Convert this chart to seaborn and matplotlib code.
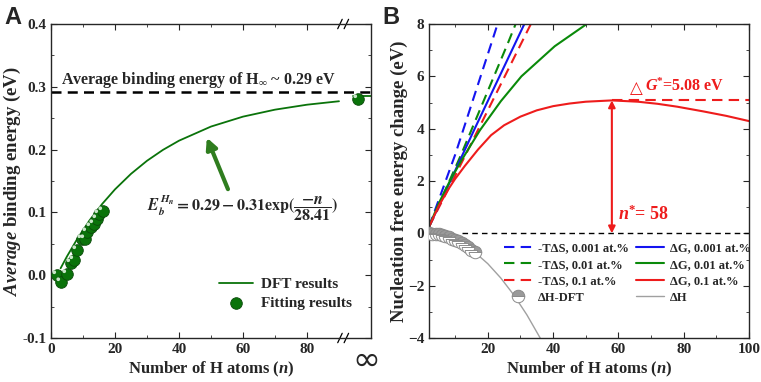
import numpy as np
import matplotlib
matplotlib.use("Agg")
import matplotlib.pyplot as plt
from matplotlib.path import Path
from matplotlib.ticker import MultipleLocator, FixedLocator
import seaborn as sns

# ---------------- panel A data ----------------
dft_n = [1.8, 3.1, 5.1, 6.25, 7.2, 8.2, 9.6, 10.7, 11.3, 12.4, 13.5, 14.3, 15.1, 16.1]
dft_E = [0.0, -0.011, 0.002, 0.02, 0.025, 0.04, 0.057, 0.058, 0.068, 0.077, 0.081, 0.09, 0.098, 0.103]
fit_n = [3, 5, 8, 12, 16, 20, 25, 30, 35, 40, 50, 60, 70, 80, 90]
fit_E = [0.011, 0.030, 0.056, 0.087, 0.1135, 0.1367, 0.1614, 0.1822, 0.1996, 0.2142,
         0.2367, 0.2525, 0.2636, 0.2715, 0.277]
inf_line_n = [94.4, 100]
inf_line_E = [0.286, 0.286]
inf_n = [96]
inf_E = [0.280]
E_inf = 0.292

# ---------------- panel B data ----------------
tds_001_n = [2, 10, 21.3, 23, 30]
tds_001 = [0.25, 3.0, 7.34, 8.0, 10.8]
tds_01_n = [2, 11.7, 26.4, 35]
tds_01 = [0.25, 2.97, 7.34, 10.0]
tds_1_n = [2, 10, 20, 33.2, 40]
tds_1 = [0.25, 2.2, 4.7, 8.0, 9.75]

dg_001_n = [2, 16, 31.2, 40]
dg_001 = [0.25, 4.0, 8.0, 10.2]
dg_01_n = [2, 5, 8.4, 12, 17.6, 24, 30.3, 40.5, 50.3, 60]
dg_01 = [0.25, 1.15, 2.0, 2.8, 3.94, 5.05, 6.0, 7.15, 8.0, 8.7]
dg_1_n = [2, 5, 8, 10, 13, 17, 21, 25, 30, 35, 40, 45, 50, 58, 66, 72, 78, 86, 93, 100]
dg_1 = [0.25, 1.05, 1.7, 2.08, 2.58, 3.2, 3.75, 4.13, 4.46, 4.7, 4.86, 4.96, 5.03, 5.08,
        5.03, 4.95, 4.84, 4.66, 4.49, 4.29]

dh_dft_n = [2, 3, 4, 5, 6, 7, 8, 9, 10, 11, 12, 13, 14, 15, 16]
dh_dft = [0.0, -0.01, -0.02, -0.04, -0.07, -0.10, -0.15, -0.20, -0.25, -0.31, -0.38,
          -0.45, -0.53, -0.62, -0.72]
dh_n = [2, 5, 8, 10, 12, 14, 16, 20, 24, 28, 32, 36, 40]
dh = [0.0, -0.04, -0.15, -0.25, -0.38, -0.53, -0.72, -1.16, -1.71, -2.36, -3.12, -3.99, -4.96]

n_star = 58
dG_star = 5.08

sns.set_style("ticks")
plt.rcParams["font.family"] = ["Liberation Serif", "DejaVu Sans"]
plt.rcParams["font.weight"] = "bold"
plt.rcParams["axes.labelweight"] = "bold"
plt.rcParams["mathtext.fontset"] = "custom"
plt.rcParams["mathtext.rm"] = "Liberation Serif:bold"
plt.rcParams["mathtext.it"] = "Liberation Serif:italic:bold"
plt.rcParams["mathtext.bf"] = "Liberation Serif:bold"
plt.rcParams["mathtext.bfit"] = "Liberation Serif:italic:bold"
plt.rcParams["xtick.direction"] = "in"
plt.rcParams["ytick.direction"] = "in"

green_a = "#0a730a"
blue = "#1414f0"
green = "#0a8a0a"
red = "#ee1c1c"
grey = "#a0a0a0"

fig = plt.figure(figsize=(7.61, 3.82), dpi=100)
axA = fig.add_axes([51 / 761, 1 - 338 / 382, 320 / 761, 314 / 382])
axB = fig.add_axes([429 / 761, 1 - 338 / 382, 320 / 761, 314 / 382])

# ---------------- panel A ----------------
sns.lineplot(x=fit_n, y=fit_E, ax=axA, color=green_a, lw=1.3, label="DFT results")
sns.lineplot(x=inf_line_n, y=inf_line_E, ax=axA, color=green_a, lw=1.3, legend=False)
axA.axhline(E_inf, color="black", lw=1.8, ls=(0, (4, 2.5)), zorder=1)
sns.scatterplot(x=dft_n, y=dft_E, ax=axA, color=green_a, s=70, edgecolor="#0b4a0b",
                linewidth=0.6, label="Fitting results", zorder=3)
sns.scatterplot(x=inf_n, y=inf_E, ax=axA, color=green_a, s=70, edgecolor="#0b4a0b",
                linewidth=0.6, legend=False, zorder=3)
# little highlight on the balls
spot = Path.circle(center=(-0.28, 0.28), radius=0.16)
spot = Path(np.vstack([spot.vertices, [[0.5, -0.5]]]),
            np.append(spot.codes, Path.MOVETO))
sns.scatterplot(x=dft_n + inf_n, y=dft_E + inf_E, ax=axA, marker=spot, s=70,
                color="#c8e6c8", linewidth=0, legend=False, zorder=4)

axA.set_xlim(0, 100)
axA.set_ylim(-0.1, 0.4)
axA.xaxis.set_major_locator(FixedLocator([0, 20, 40, 60, 80]))
axA.xaxis.set_minor_locator(FixedLocator([10, 30, 50, 70]))
axA.yaxis.set_major_locator(MultipleLocator(0.1))
axA.yaxis.set_minor_locator(MultipleLocator(0.05))
axA.set_yticklabels([f"{v:.1f}" for v in axA.get_yticks()])
axA.tick_params(which="both", top=True, right=True, labelsize=11)
axA.tick_params(which="major", length=4)
axA.tick_params(which="minor", length=2)
for sp in axA.spines.values():
    sp.set_linewidth(1.0)

# axis break marks
for yy in (0, 1):
    for xx in (89.6, 91.6):
        axA.plot([xx, xx + 1.4], [yy - 0.015, yy + 0.015], color="black", lw=0.9,
                 transform=axA.get_xaxis_transform(), clip_on=False)
axA.text(0.985, -0.07, "∞", transform=axA.transAxes, ha="center", va="center",
         fontsize=24, fontweight="normal", family="DejaVu Sans")

axA.text(3, 0.311, r"Average binding energy of H$_{\infty}$ ~ 0.29 eV", fontsize=11.5,
         va="center", ha="left")
axA.text(30, 0.108, r"$E_b^{H_n} = 0.29 - 0.31\exp(\dfrac{-n}{28.41})$", fontsize=11.5,
         va="center", ha="left", math_fontfamily="stix", fontweight="normal")
axA.annotate("", xy=(48.7, 0.219), xytext=(55.3, 0.137),
             arrowprops=dict(arrowstyle="-|>", color="#2f7d1f", lw=3, mutation_scale=16,
                             shrinkA=0, shrinkB=0))

axA.set_xlabel(r"Number of H atoms ($\mathbfit{n}$)", fontsize=12, labelpad=3)
axA.set_ylabel(r"$\mathbfit{Average}$ binding energy (eV)", fontsize=13.5, labelpad=-1)
axA.legend(frameon=False, loc="upper left", bbox_to_anchor=(0.483, 0.236), fontsize=11,
           handlelength=2.2, handletextpad=0.5, labelspacing=0.35)

# ---------------- panel B ----------------
dash = (0, (5, 3))
sns.lineplot(x=tds_001_n, y=tds_001, ax=axB, color=blue, lw=1.5, ls=dash, label="-TΔS, 0.001 at.%")
sns.lineplot(x=tds_01_n, y=tds_01, ax=axB, color=green, lw=1.5, ls=dash, label="-TΔS, 0.01 at.%")
sns.lineplot(x=tds_1_n, y=tds_1, ax=axB, color=red, lw=1.5, ls=dash, label="-TΔS, 0.1 at.%")
sns.lineplot(x=dg_001_n, y=dg_001, ax=axB, color=blue, lw=1.5, label="ΔG, 0.001 at.%")
sns.lineplot(x=dg_01_n, y=dg_01, ax=axB, color=green, lw=1.5, label="ΔG, 0.01 at.%")
sns.lineplot(x=dg_1_n, y=dg_1, ax=axB, color=red, lw=1.5, label="ΔG, 0.1 at.%")
sns.lineplot(x=dh_n, y=dh, ax=axB, color=grey, lw=1.0, label="ΔH")
axB.plot([12, 100], [0, 0], color="black", lw=1.0, ls=(0, (4, 3)), zorder=1)
sns.lineplot(x=dh_dft_n, y=dh_dft, ax=axB, color=grey, ls="", marker="o", ms=9,
             fillstyle="top", markerfacecolor="#9a9a9a", markerfacecoloralt="white",
             markeredgecolor="#8a8a8a", markeredgewidth=0.7, label="ΔH-DFT", zorder=3)

axB.plot([n_star, 100], [dG_star, dG_star], color=red, lw=1.5, ls=dash)
axB.annotate("", xy=(n_star, dG_star), xytext=(n_star, 0),
             arrowprops=dict(arrowstyle="<|-|>", color=red, lw=1.5, mutation_scale=10,
                             shrinkA=0, shrinkB=0))
axB.text(60, 0.72, r"$\mathbfit{n}^{*}$= 58", color=red, fontsize=13, va="center", ha="left")
axB.text(63.5, 5.57, "△", color=red, fontsize=12, va="center", ha="left",
         family="DejaVu Sans", fontweight="normal")
axB.text(68.3, 5.6, r"$\mathbfit{G}^{*}$=5.08 eV", color=red, fontsize=11.5, va="center",
         ha="left")

axB.set_xlim(2, 100)
axB.set_ylim(-4, 8)
axB.xaxis.set_major_locator(FixedLocator([20, 40, 60, 80, 100]))
axB.xaxis.set_minor_locator(FixedLocator([10, 30, 50, 70, 90]))
axB.yaxis.set_major_locator(MultipleLocator(2))
axB.yaxis.set_minor_locator(MultipleLocator(1))
axB.tick_params(which="both", top=True, right=True, labelsize=11)
axB.tick_params(which="major", length=4)
axB.tick_params(which="minor", length=2)
for sp in axB.spines.values():
    sp.set_linewidth(1.0)
axB.set_xlabel(r"Number of H atoms ($\mathbfit{n}$)", fontsize=12, labelpad=3)
axB.set_ylabel("Nucleation free energy change (eV)", fontsize=13.5, labelpad=0)

h, l = axB.get_legend_handles_labels()
order = ["-TΔS, 0.001 at.%", "-TΔS, 0.01 at.%", "-TΔS, 0.1 at.%", "ΔH-DFT",
         "ΔG, 0.001 at.%", "ΔG, 0.01 at.%", "ΔG, 0.1 at.%", "ΔH"]
hd = dict(zip(l, h))
axB.legend([hd[k] for k in order], order, ncol=2, frameon=False, loc="upper left",
           bbox_to_anchor=(0.2, 0.34), fontsize=9, handlelength=2.2, handletextpad=0.5,
           labelspacing=0.35, columnspacing=0.6)

fig.text(0.006, 0.985, "A", fontsize=17, fontweight="bold", family="Liberation Sans",
         va="top", ha="left")
fig.text(0.503, 0.985, "B", fontsize=17, fontweight="bold", family="Liberation Sans",
         va="top", ha="left")

fig.savefig("out.png", dpi=100)
